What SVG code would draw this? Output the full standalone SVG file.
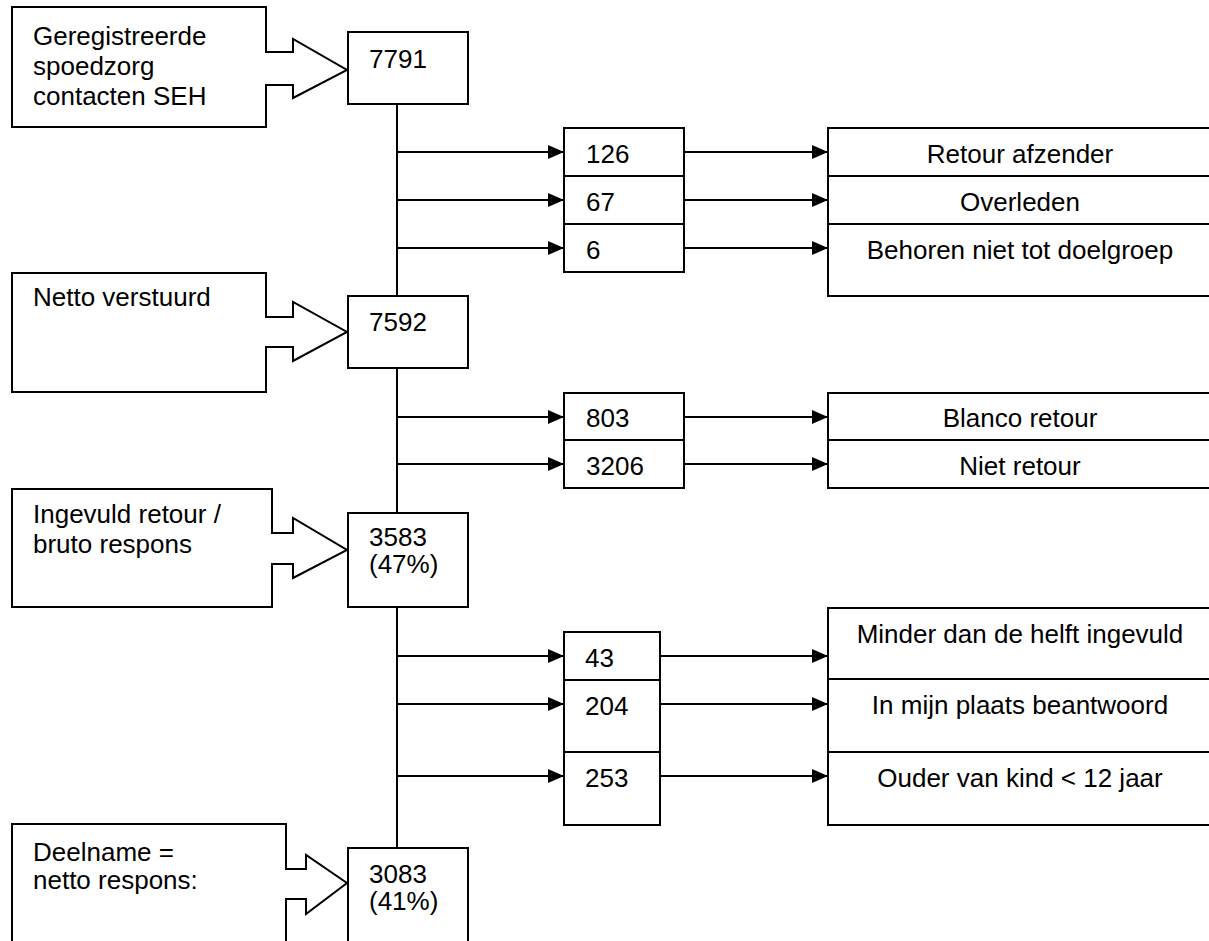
<svg xmlns="http://www.w3.org/2000/svg" width="1209" height="941" viewBox="0 0 1209 941">
<style>
.bx{fill:#fff;stroke:#000;stroke-width:2}
.ln{stroke:#000;stroke-width:2;fill:none}
.ar{marker-end:url(#ah)}
text{font-family:"Liberation Sans",Arial,sans-serif;font-size:26px;fill:#000}
.c{text-anchor:middle}
</style>
<defs>
<marker id="ah" markerUnits="userSpaceOnUse" markerWidth="16" markerHeight="14" refX="16" refY="7" orient="auto">
<path d="M0,0 L16,7 L0,14 Z" fill="#000"/>
</marker>
</defs>
<rect width="1209" height="941" fill="#fff"/>
<g id="connectors">
<line class="ln" x1="397" y1="104" x2="397" y2="296"/>
<line class="ln" x1="397" y1="368" x2="397" y2="513"/>
<line class="ln" x1="397" y1="607" x2="397" y2="848"/>
<line class="ln ar" x1="397" y1="152" x2="564" y2="152"/>
<line class="ln ar" x1="397" y1="200" x2="564" y2="200"/>
<line class="ln ar" x1="397" y1="248" x2="564" y2="248"/>
<line class="ln ar" x1="684" y1="152" x2="828" y2="152"/>
<line class="ln ar" x1="684" y1="200" x2="828" y2="200"/>
<line class="ln ar" x1="684" y1="248" x2="828" y2="248"/>
<line class="ln ar" x1="397" y1="417" x2="564" y2="417"/>
<line class="ln ar" x1="397" y1="464" x2="564" y2="464"/>
<line class="ln ar" x1="684" y1="417" x2="828" y2="417"/>
<line class="ln ar" x1="684" y1="464" x2="828" y2="464"/>
<line class="ln ar" x1="397" y1="656" x2="564" y2="656"/>
<line class="ln ar" x1="397" y1="704" x2="564" y2="704"/>
<line class="ln ar" x1="397" y1="776" x2="564" y2="776"/>
<line class="ln ar" x1="660" y1="656" x2="828" y2="656"/>
<line class="ln ar" x1="660" y1="704" x2="828" y2="704"/>
<line class="ln ar" x1="660" y1="776" x2="828" y2="776"/>
</g>
<g id="callout1">
<path class="bx" d="M12,7 H266 V52 H293 V39 L347,70 L293,98 V85 H266 V127 H12 Z"/>
<text x="33" y="45">Geregistreerde</text>
<text x="33" y="75">spoedzorg</text>
<text x="33" y="105">contacten SEH</text>
</g>
<g id="callout2">
<path class="bx" d="M12,273 H266 V317 H293 V302 L347,332 L293,361 V347 H266 V392 H12 Z"/>
<text x="33" y="306">Netto verstuurd</text>
</g>
<g id="callout3">
<path class="bx" d="M12,489 H272 V533 H293 V518 L347,550 L293,578 V564 H272 V607 H12 Z"/>
<text x="33" y="523">Ingevuld retour /</text>
<text x="33" y="553">bruto respons</text>
</g>
<g id="callout4">
<path class="bx" d="M12,824 H286 V869 H306 V855 L347,883 L306,914 V899 H286 V960 H12 Z"/>
<text x="33" y="861">Deelname =</text>
<text x="33" y="889">netto respons:</text>
</g>
<g id="n7791"><rect class="bx" x="348" y="32" width="120" height="72"/><text x="369" y="68">7791</text></g>
<g id="n7592"><rect class="bx" x="348" y="296" width="120" height="72"/><text x="369" y="331">7592</text></g>
<g id="n3583"><rect class="bx" x="348" y="513" width="120" height="94"/><text x="369" y="546">3583</text><text x="369" y="573">(47%)</text></g>
<g id="n3083"><rect class="bx" x="348" y="848" width="120" height="110"/><text x="369" y="883">3083</text><text x="369" y="910">(41%)</text></g>
<g id="n126"><rect class="bx" x="564" y="128" width="120" height="48"/><text x="586" y="163">126</text></g>
<g id="n67"><rect class="bx" x="564" y="176" width="120" height="48"/><text x="586" y="211">67</text></g>
<g id="n6"><rect class="bx" x="564" y="224" width="120" height="48"/><text x="586" y="259">6</text></g>
<g id="r1"><rect class="bx" x="828" y="128" width="400" height="48"/><text class="c" x="1020" y="163">Retour afzender</text></g>
<g id="r2"><rect class="bx" x="828" y="176" width="400" height="48"/><text class="c" x="1020" y="211">Overleden</text></g>
<g id="r3"><rect class="bx" x="828" y="224" width="400" height="72"/><text class="c" x="1020" y="259">Behoren niet tot doelgroep</text></g>
<g id="n803"><rect class="bx" x="564" y="393" width="120" height="47"/><text x="586" y="427">803</text></g>
<g id="n3206"><rect class="bx" x="564" y="440" width="120" height="48"/><text x="586" y="475">3206</text></g>
<g id="r4"><rect class="bx" x="828" y="393" width="400" height="47"/><text class="c" x="1020" y="427">Blanco retour</text></g>
<g id="r5"><rect class="bx" x="828" y="440" width="400" height="48"/><text class="c" x="1020" y="475">Niet retour</text></g>
<g id="n43"><rect class="bx" x="564" y="632" width="96" height="48"/><text x="585" y="667">43</text></g>
<g id="n204"><rect class="bx" x="564" y="680" width="96" height="72"/><text x="585" y="715">204</text></g>
<g id="n253"><rect class="bx" x="564" y="752" width="96" height="73"/><text x="585" y="787">253</text></g>
<g id="r6"><rect class="bx" x="828" y="608" width="400" height="71"/><text class="c" x="1020" y="643">Minder dan de helft ingevuld</text></g>
<g id="r7"><rect class="bx" x="828" y="679" width="400" height="73"/><text class="c" x="1020" y="714">In mijn plaats beantwoord</text></g>
<g id="r8"><rect class="bx" x="828" y="752" width="400" height="73"/><text class="c" x="1020" y="787">Ouder van kind &lt; 12 jaar</text></g>
</svg>
